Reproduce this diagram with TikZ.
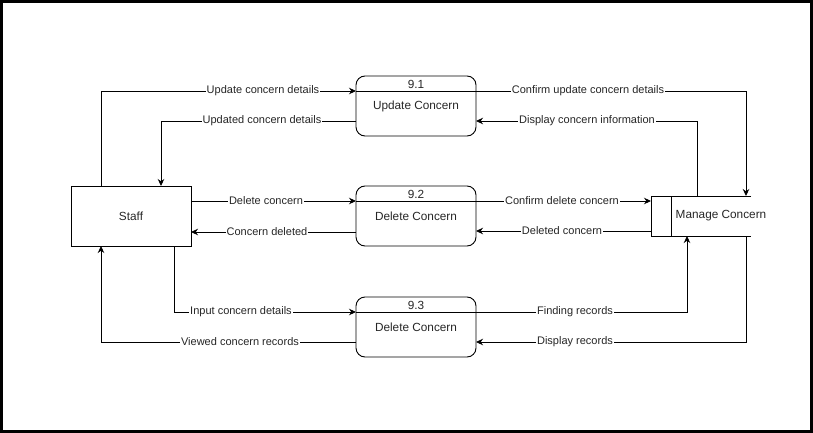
\documentclass[tikz,border=0pt]{standalone}
\usepackage{fontspec}
\setmainfont{Liberation Sans}
\usetikzlibrary{arrows.meta}
\begin{document}
\begin{tikzpicture}[x=1pt,y=-1pt,
  flow/.style={line width=0.9pt,-{Stealth[length=7pt,width=6.5pt]}},
  lbl/.style={fill=white,inner sep=1pt,text=black!85,font=\fontsize{11}{12}\selectfont},
  txt/.style={inner sep=0pt,text=black!85,font=\fontsize{11.8}{13}\selectfont},
  proc/.style={draw,rounded corners=9pt,minimum width=120pt,minimum height=60pt,line width=0.9pt,inner sep=0pt,outer sep=0pt},
  ext/.style={draw,minimum width=120pt,minimum height=60pt,line width=0.9pt,inner sep=0pt,outer sep=0pt,text=black!85,font=\fontsize{11.8}{13}\selectfont},
  storebox/.style={minimum width=100pt,minimum height=40pt,inner sep=0pt,outer sep=0pt}]
\useasboundingbox (0,0) rectangle (813,433);
\draw[line width=3pt] (1.5,1.5) rectangle (811.5,431.5);

% external entity
\node[ext] (staff) at (131,216) {Staff};

% processes
\node[proc] (p1) at (416,106) {};
\node[proc] (p2) at (416,216) {};
\node[proc] (p3) at (416,327) {};
\draw[line width=0.9pt] ([yshift=-15pt]p1.north west) -- ([yshift=-15pt]p1.north east);
\draw[line width=0.9pt] ([yshift=-15pt]p2.north west) -- ([yshift=-15pt]p2.north east);
\draw[line width=0.9pt] ([yshift=-15pt]p3.north west) -- ([yshift=-15pt]p3.north east);
\node[txt] (n1) at (416,84) {9.1};
\node[txt] (t1) at (416,106) {Update Concern};
\node[txt] (n2) at (416,194) {9.2};
\node[txt] (t2) at (416,216) {Delete Concern};
\node[txt] (n3) at (416,305) {9.3};
\node[txt] (t3) at (416,327) {Delete Concern};

% data store
\node[storebox] (store) at (701,216) {};
\draw[line width=0.9pt] (store.north east) -- (store.north west) -- (store.south west) -- (store.south east);
\draw[line width=0.9pt] ([xshift=20pt]store.north west) -- ([xshift=20pt]store.south west);
\node[txt] (st) at (721,216) {Manage Concern};

% flows
\draw[flow] ([xshift=30pt]staff.north west) |- ([yshift=-15pt]p1.north west);
\draw[flow] ([yshift=15pt]p1.south west) -| ([xshift=-30pt]staff.north east);
\draw[flow] ([yshift=-15pt]p1.north east) -| ([xshift=-5pt]store.north east);
\draw[flow] ([xshift=-54pt]store.north east) |- ([yshift=15pt]p1.south east);
\draw[flow] ([yshift=-15pt]staff.north east) -- ([yshift=-15pt]p2.north west);
\draw[flow] ([yshift=14pt]p2.south west) -- ([yshift=14pt]staff.south east);
\draw[flow] ([yshift=-15pt]p2.north east) -- ([yshift=-5pt]store.north west);
\draw[flow] ([yshift=5pt]store.south west) -- ([yshift=15pt]p2.south east);
\draw[flow] ([xshift=-17pt]staff.south east) |- ([yshift=-15pt]p3.north west);
\draw[flow] ([yshift=15pt]p3.south west) -| ([xshift=30pt]staff.south west);
\draw[flow] ([yshift=-15pt]p3.north east) -| ([xshift=36pt]store.south west);
\draw[flow] ([xshift=-5pt]store.south east) |- ([yshift=15pt]p3.south east);

% labels
\node[lbl] (l1) at (263,91) {Update concern details};
\node[lbl] (l2) at (262,121) {Updated concern details};
\node[lbl] (l3) at (588,91) {Confirm update concern details};
\node[lbl] (l4) at (587,121) {Display concern information};
\node[lbl] (l5) at (266,201) {Delete concern};
\node[lbl] (l6) at (267,232) {Concern deleted};
\node[lbl] (l7) at (562,201) {Confirm delete concern};
\node[lbl] (l8) at (562,231) {Deleted concern};
\node[lbl] (l9) at (241,312) {Input concern details};
\node[lbl] (l10) at (240,342) {Viewed concern records};
\node[lbl] (l11) at (575,312) {Finding records};
\node[lbl] (l12) at (575,342) {Display records};
\end{tikzpicture}
\end{document}
